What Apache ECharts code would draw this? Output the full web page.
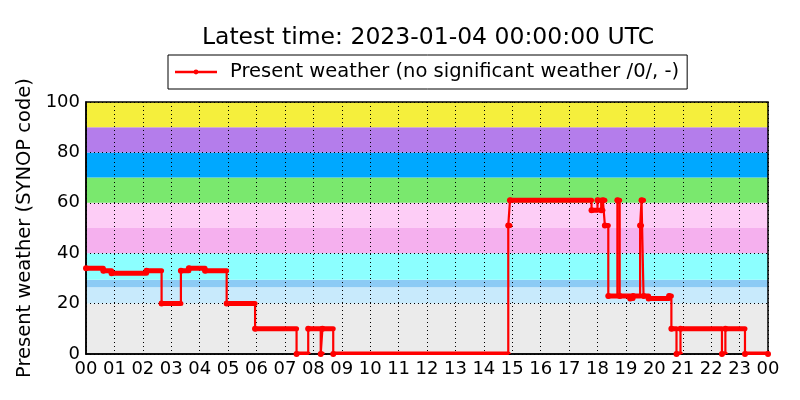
<!DOCTYPE html>
<html>
<head>
<meta charset="utf-8">
<script src="https://cdn.jsdelivr.net/npm/echarts@6/dist/echarts.min.js"></script>
<style>html,body{margin:0;padding:0;background:#fff}#c{width:800px;height:400px}</style>
</head>
<body>
<div id="c"></div>
<script>
// Tick labels for x axis (hours)
const hourLabels = ['00','01','02','03','04','05','06','07','08','09','10','11','12','13','14','15','16','17','18','19','20','21','22','23','00'];
// Change points of the weather code (time in hours since 00 UTC, code from then on)
const changeHours = [0.00,0.61,0.90,2.13,2.66,3.34,3.62,4.19,4.95,5.95,7.41,7.82,8.26,8.32,8.70,14.86,14.92,17.79,18.00,18.13,18.19,18.26,18.38,18.70,18.78,19.15,19.25,19.50,19.55,19.62,19.80,20.52,20.60,20.78,20.92,22.38,22.50,23.19,24.00];
const changeCodes = [34,33,32,33,20,33,34,33,20,10,0,10,0,10,0,51,61,57,61,57,61,51,23,61,23,22,23,51,61,23,22,23,10,0,10,0,10,0,0];
// Background code bands
const bandFrom = [0,20,26.5,29.5,40,50,60,70,80,90];
const bandTo = [20,26.5,29.5,40,50,60,70,80,90,100];
const bandColors = ['#ebebeb','#c8eafc','#8ccbf5','#8cffff','#f5b0ee','#fdcdf6','#7ae86e','#00a8ff','#b47deb','#f5ef3c'];
const seriesName = 'Present weather (no significant weather /0/, -)';

const stepData = changeHours.map((h, i) => [h, changeCodes[i]]);
const segData = changeHours.slice(0, -1).map((h, i) => [h, changeCodes[i], changeHours[i + 1]]);
const bandData = bandFrom.map((f, i) => [f, bandTo[i], i]);

const FONT = 'DejaVu Sans';
const chart = echarts.init(document.getElementById('c'), null, {renderer: 'canvas'});
chart.setOption({
  animation: false,
  backgroundColor: '#fff',
  title: {
    text: 'Latest time: 2023-01-04 00:00:00 UTC',
    left: 423, top: 21, textAlign: 'center',
    textStyle: {fontFamily: FONT, fontSize: 23.5, fontWeight: 'normal', color: '#000'}
  },
  legend: {
    data: [{name: seriesName, icon: 'path://M0,3.7L42,3.7L42,6.3L0,6.3Z M18.6,5A2.4,2.4,0,1,1,23.4,5A2.4,2.4,0,1,1,18.6,5Z'}],
    left: 168, top: 55,
    padding: [7, 8, 7, 7],
    itemWidth: 42, itemHeight: 5,
    borderColor: '#000', borderWidth: 1, borderRadius: 0,
    backgroundColor: '#fff',
    textStyle: {fontFamily: FONT, fontSize: 19.5, color: '#000', padding: [0, 0, 0, 8]}
  },
  grid: {left: 86, right: 32, top: 102, bottom: 46, show: true, borderColor: '#000', borderWidth: 1.5, z: 2.5},
  xAxis: {
    type: 'value', z: 2,
    min: 0, max: 24, interval: 1,
    axisLine: {show: true, lineStyle: {color: '#000', width: 1.5}},
    axisTick: {show: false},
    axisLabel: {fontFamily: FONT, fontSize: 18, color: '#000', margin: 6, formatter: v => hourLabels[v]},
    splitLine: {show: true, lineStyle: {color: '#000', type: [1, 3], width: 1}}
  },
  yAxis: {
    type: 'value', z: 2,
    min: 0, max: 100, interval: 20,
    axisLine: {show: true, lineStyle: {color: '#000', width: 1.5}},
    axisTick: {show: false},
    name: 'Present weather (SYNOP code)', nameLocation: 'middle', nameGap: 48,
    nameTextStyle: {fontFamily: FONT, fontSize: 19.5, color: '#000'},
    axisLabel: {fontFamily: FONT, fontSize: 18, color: '#000', margin: 6},
    splitLine: {show: true, lineStyle: {color: '#000', type: [1, 3], width: 1}}
  },
  series: [
    {
      type: 'custom', z: 1, silent: true,
      data: bandData,
      renderItem: function (params, api) {
        const p1 = api.coord([0, api.value(1)]);
        const p2 = api.coord([24, api.value(0)]);
        return {type: 'rect', shape: {x: p1[0], y: p1[1], width: p2[0] - p1[0], height: p2[1] - p1[1]},
                style: {fill: bandColors[api.value(2)]}};
      }
    },
    {
      type: 'custom', z: 3, silent: true,
      data: segData,
      clip: true,
      renderItem: function (params, api) {
        const a = api.coord([api.value(0), api.value(1)]);
        const b = api.coord([api.value(2), api.value(1)]);
        return {type: 'line', shape: {x1: a[0], y1: a[1], x2: b[0], y2: b[1]},
                style: {stroke: '#ff0000', lineWidth: 5, lineCap: 'round'}};
      }
    },
    {
      name: seriesName,
      type: 'line', z: 4,
      step: 'end',
      data: stepData,
      symbol: 'circle', symbolSize: 6, showSymbol: true,
      itemStyle: {color: '#ff0000'},
      lineStyle: {color: '#ff0000', width: 2.2},
      clip: true
    }
  ]
});
</script>
</body>
</html>
